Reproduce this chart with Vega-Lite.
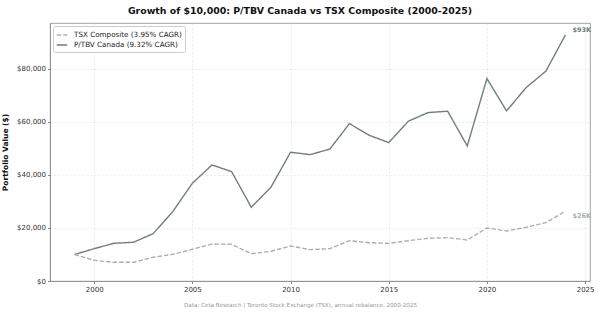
{
  "$schema": "https://vega.github.io/schema/vega-lite/v6.json",
  "autosize": {"type": "none"},
  "width": 540,
  "height": 258,
  "padding": {"left": 50, "top": 23, "right": 10, "bottom": 32},
  "background": "white",
  "config": {
    "font": "DejaVu Sans",
    "view": {"stroke": "#8a8a8a", "strokeWidth": 0.8},
    "axis": {
      "labelFont": "DejaVu Sans",
      "labelFontSize": 7,
      "labelColor": "#333333",
      "tickColor": "#555555",
      "tickSize": 2.5,
      "tickWidth": 0.7,
      "labelPadding": 2,
      "domainColor": "#8a8a8a",
      "domainWidth": 0.8,
      "gridColor": "#dcdcdc",
      "gridDash": [2, 2],
      "gridWidth": 0.6
    }
  },
  "title": {
    "text": "Growth of $10,000: P/TBV Canada vs TSX Composite (2000-2025)",
    "font": "DejaVu Sans",
    "fontSize": 9.4,
    "fontWeight": "bold",
    "color": "#111111",
    "anchor": "middle",
    "dx": -20,
    "offset": 7
  },
  "data": {
    "values": [
      {"year": 1999, "series": "P/TBV Canada (9.32% CAGR)", "value": 10000},
      {"year": 2000, "series": "P/TBV Canada (9.32% CAGR)", "value": 12190},
      {"year": 2001, "series": "P/TBV Canada (9.32% CAGR)", "value": 14220},
      {"year": 2002, "series": "P/TBV Canada (9.32% CAGR)", "value": 14600},
      {"year": 2003, "series": "P/TBV Canada (9.32% CAGR)", "value": 17850},
      {"year": 2004, "series": "P/TBV Canada (9.32% CAGR)", "value": 26150},
      {"year": 2005, "series": "P/TBV Canada (9.32% CAGR)", "value": 36860},
      {"year": 2006, "series": "P/TBV Canada (9.32% CAGR)", "value": 43770},
      {"year": 2007, "series": "P/TBV Canada (9.32% CAGR)", "value": 41250},
      {"year": 2008, "series": "P/TBV Canada (9.32% CAGR)", "value": 27800},
      {"year": 2009, "series": "P/TBV Canada (9.32% CAGR)", "value": 35350},
      {"year": 2010, "series": "P/TBV Canada (9.32% CAGR)", "value": 48550},
      {"year": 2011, "series": "P/TBV Canada (9.32% CAGR)", "value": 47670},
      {"year": 2012, "series": "P/TBV Canada (9.32% CAGR)", "value": 49750},
      {"year": 2013, "series": "P/TBV Canada (9.32% CAGR)", "value": 59360},
      {"year": 2014, "series": "P/TBV Canada (9.32% CAGR)", "value": 54970},
      {"year": 2015, "series": "P/TBV Canada (9.32% CAGR)", "value": 52200},
      {"year": 2016, "series": "P/TBV Canada (9.32% CAGR)", "value": 60260},
      {"year": 2017, "series": "P/TBV Canada (9.32% CAGR)", "value": 63520},
      {"year": 2018, "series": "P/TBV Canada (9.32% CAGR)", "value": 64030},
      {"year": 2019, "series": "P/TBV Canada (9.32% CAGR)", "value": 50940},
      {"year": 2020, "series": "P/TBV Canada (9.32% CAGR)", "value": 76340},
      {"year": 2021, "series": "P/TBV Canada (9.32% CAGR)", "value": 64150},
      {"year": 2022, "series": "P/TBV Canada (9.32% CAGR)", "value": 72950},
      {"year": 2023, "series": "P/TBV Canada (9.32% CAGR)", "value": 79120},
      {"year": 2024, "series": "P/TBV Canada (9.32% CAGR)", "value": 92800},
      {"year": 1999, "series": "TSX Composite (3.95% CAGR)", "value": 10000},
      {"year": 2000, "series": "TSX Composite (3.95% CAGR)", "value": 7800},
      {"year": 2001, "series": "TSX Composite (3.95% CAGR)", "value": 7050},
      {"year": 2002, "series": "TSX Composite (3.95% CAGR)", "value": 7050},
      {"year": 2003, "series": "TSX Composite (3.95% CAGR)", "value": 8940},
      {"year": 2004, "series": "TSX Composite (3.95% CAGR)", "value": 10070},
      {"year": 2005, "series": "TSX Composite (3.95% CAGR)", "value": 11960},
      {"year": 2006, "series": "TSX Composite (3.95% CAGR)", "value": 13960},
      {"year": 2007, "series": "TSX Composite (3.95% CAGR)", "value": 13840},
      {"year": 2008, "series": "TSX Composite (3.95% CAGR)", "value": 10300},
      {"year": 2009, "series": "TSX Composite (3.95% CAGR)", "value": 11200},
      {"year": 2010, "series": "TSX Composite (3.95% CAGR)", "value": 13200},
      {"year": 2011, "series": "TSX Composite (3.95% CAGR)", "value": 11820},
      {"year": 2012, "series": "TSX Composite (3.95% CAGR)", "value": 12200},
      {"year": 2013, "series": "TSX Composite (3.95% CAGR)", "value": 15200},
      {"year": 2014, "series": "TSX Composite (3.95% CAGR)", "value": 14450},
      {"year": 2015, "series": "TSX Composite (3.95% CAGR)", "value": 14200},
      {"year": 2016, "series": "TSX Composite (3.95% CAGR)", "value": 15200},
      {"year": 2017, "series": "TSX Composite (3.95% CAGR)", "value": 16100},
      {"year": 2018, "series": "TSX Composite (3.95% CAGR)", "value": 16350},
      {"year": 2019, "series": "TSX Composite (3.95% CAGR)", "value": 15470},
      {"year": 2020, "series": "TSX Composite (3.95% CAGR)", "value": 20000},
      {"year": 2021, "series": "TSX Composite (3.95% CAGR)", "value": 18870},
      {"year": 2022, "series": "TSX Composite (3.95% CAGR)", "value": 20250},
      {"year": 2023, "series": "TSX Composite (3.95% CAGR)", "value": 22000},
      {"year": 2024, "series": "TSX Composite (3.95% CAGR)", "value": 26340}
    ]
  },
  "encoding": {
    "x": {
      "field": "year",
      "type": "quantitative",
      "scale": {"domain": [1997.75, 2025.25], "nice": false, "zero": false},
      "axis": {
        "values": [2000, 2005, 2010, 2015, 2020, 2025],
        "format": "d",
        "grid": true,
        "title": "Data: Ceta Research | Toronto Stock Exchange (TSX), annual rebalance, 2000-2025",
        "titleFont": "DejaVu Sans",
        "titleFontSize": 5.6,
        "titleFontWeight": "normal",
        "titleColor": "#8f9999",
        "titleX": 250,
        "titleAlign": "center",
        "titlePadding": 10
      }
    },
    "y": {
      "field": "value",
      "type": "quantitative",
      "scale": {"domain": [0, 97300], "nice": false},
      "axis": {
        "values": [0, 20000, 40000, 60000, 80000],
        "format": "$,.0f",
        "grid": true,
        "title": "Portfolio Value ($)",
        "titleFont": "DejaVu Sans",
        "titleFontSize": 7.5,
        "titleFontWeight": "bold",
        "titleColor": "#111111",
        "titlePadding": 7
      }
    }
  },
  "layer": [
    {
      "mark": {"type": "line", "clip": true, "strokeWidth": 1.4},
      "encoding": {
        "color": {
          "field": "series",
          "type": "nominal",
          "scale": {
            "domain": ["TSX Composite (3.95% CAGR)", "P/TBV Canada (9.32% CAGR)"],
            "range": ["#a7b1b1", "#6f7f7f"]
          },
          "legend": {
            "title": null,
            "orient": "top-left",
            "offset": 3,
            "symbolType": "stroke",
            "symbolSize": 110,
            "symbolStrokeWidth": 1.4,
            "labelFont": "DejaVu Sans",
            "labelFontSize": 7.2,
            "labelColor": "#222222",
            "labelOffset": 6,
            "rowPadding": 0,
            "padding": 3,
            "strokeColor": "#cccccc",
            "fillColor": "white",
            "cornerRadius": 2
          }
        },
        "strokeDash": {
          "field": "series",
          "type": "nominal",
          "scale": {
            "domain": ["TSX Composite (3.95% CAGR)", "P/TBV Canada (9.32% CAGR)"],
            "range": [[4.5, 2], [1, 0]]
          },
          "legend": {"title": null}
        }
      }
    },
    {
      "transform": [
        {"filter": "datum.year === 2024 && datum.series === 'P/TBV Canada (9.32% CAGR)'"},
        {"calculate": "'$' + format(datum.value / 1000, '.0f') + 'K'", "as": "endLabel"}
      ],
      "mark": {"type": "text", "align": "left", "baseline": "middle", "dx": 7, "dy": -5, "fontSize": 6.5, "fontWeight": "bold", "font": "DejaVu Sans", "color": "#6f7f7f"},
      "encoding": {"text": {"field": "endLabel"}}
    },
    {
      "transform": [
        {"filter": "datum.year === 2024 && datum.series === 'TSX Composite (3.95% CAGR)'"},
        {"calculate": "'$' + format(datum.value / 1000, '.0f') + 'K'", "as": "endLabel"}
      ],
      "mark": {"type": "text", "align": "left", "baseline": "middle", "dx": 7, "dy": 5, "fontSize": 6.5, "fontWeight": "bold", "font": "DejaVu Sans", "color": "#a7b1b1"},
      "encoding": {"text": {"field": "endLabel"}}
    }
  ]
}
